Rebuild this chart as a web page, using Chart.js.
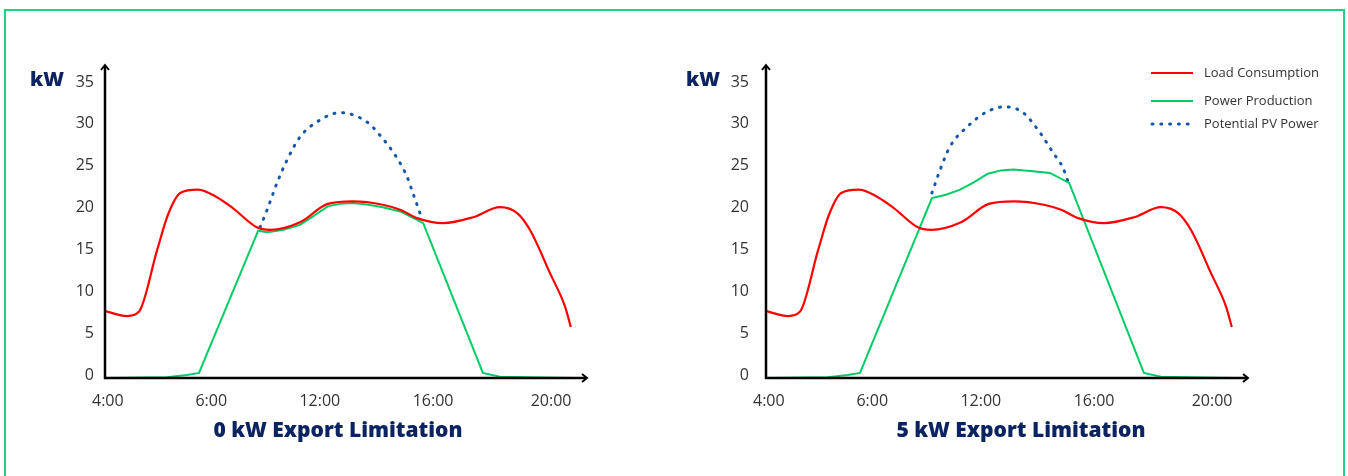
<!DOCTYPE html>
<html>
<head>
<meta charset="utf-8">
<script src="https://cdn.jsdelivr.net/npm/chart.js"></script>
<style>
  body { margin: 0; background: #fff; font-family: 'Open Sans', sans-serif; }
  #wrap { position: relative; width: 1348px; height: 476px; overflow: hidden; background: #fff; }
  .frame { position: absolute; left: 4px; top: 9px; width: 1341px; height: 490px; border: 2px solid #22d083; box-sizing: border-box; }
  canvas { position: absolute; top: 0; }
  .unit { position: absolute; top: 65px; font-weight: 800; font-size: 20px; color: #0b2461; }
  .title { position: absolute; top: 415px; width: 400px; text-align: center; font-weight: 800; font-size: 21px; color: #0b2461; }
  .legend { position: absolute; left: 1150px; top: 60px; font-size: 13px; color: #333; }
  .legend div { position: absolute; left: 0; white-space: nowrap; height: 20px; line-height: 20px; }
  .legend svg { position: absolute; left: 0; top: 9px; }
  .legend span { position: absolute; left: 54px; }
</style>
</head>
<body>
<div id="wrap">
  <div class="frame"></div>
  <canvas id="chartA" width="661" height="476" style="left:0"></canvas>
  <canvas id="chartB" width="661" height="476" style="left:661px"></canvas>
  <div class="unit" style="left:30px">kW</div>
  <div class="unit" style="left:686px">kW</div>
  <div class="title" style="left:138px">0 kW Export Limitation</div>
  <div class="title" style="left:821px">5 kW Export Limitation</div>
  <div class="legend">
    <div style="top:2px"><svg width="44" height="4"><line x1="1" y1="2" x2="43" y2="2" stroke="#ff0000" stroke-width="2.2"/></svg><span>Load Consumption</span></div>
    <div style="top:30px"><svg width="44" height="4"><line x1="1" y1="2" x2="43" y2="2" stroke="#00cc66" stroke-width="2"/></svg><span>Power Production</span></div>
    <div style="top:53px"><svg width="44" height="4"><line x1="2" y1="2" x2="43" y2="2" stroke="#1457a8" stroke-width="3" stroke-dasharray="1 7.8" stroke-linecap="round"/></svg><span>Potential PV Power</span></div>
  </div>
</div>
<script>
// x is a schematic time position (0 = start of axis, 100 = end of curves)
const tickT = [0.6, 22.6, 45.7, 69.8, 94.9];
const tickLabels = ["4:00", "6:00", "12:00", "16:00", "20:00"];

// Load Consumption (same in both charts)
const loadT  = [0, 4.7, 7.2, 11.1, 13.4, 16.0, 19.8, 23.8, 27.2, 32.3, 35.1, 41.5, 47.4, 52.8, 59.1, 62.8, 66.4, 71.9, 78.3, 84.0, 87.7, 90.4, 94.7, 97.9, 99.1];
const loadKW = [8.0, 7.4, 7.9, 15.3, 19.5, 22.1, 22.5, 21.6, 20.3, 18.0, 17.7, 18.6, 20.8, 21.1, 20.7, 20.1, 19.1, 18.5, 19.2, 20.4, 19.7, 17.7, 12.5, 8.5, 6.1];

// Power Production, 0 kW export limitation
const prodAT  = [0, 13.2, 17.4, 20.0, 32.6, 34.5, 38.0, 41.5, 44.5, 47.4, 50.0, 52.8, 56.0, 59.1, 62.8, 66.4, 67.7, 80.4, 84.0, 92.6, 100];
const prodAKW = [0, 0.1, 0.35, 0.6, 17.6, 17.4, 17.7, 18.3, 19.4, 20.5, 20.8, 20.9, 20.7, 20.4, 19.9, 18.9, 18.5, 0.6, 0.15, 0.05, 0];

// Power Production, 5 kW export limitation
const prodBT  = [0, 13.2, 17.4, 20.0, 35.3, 38.3, 41.3, 44.3, 47.2, 50.0, 52.6, 56.8, 60.4, 64.5, 80.4, 84.0, 92.6, 100];
const prodBKW = [0, 0.1, 0.35, 0.6, 21.5, 21.9, 22.5, 23.4, 24.4, 24.8, 24.9, 24.7, 24.5, 23.3, 0.6, 0.15, 0.05, 0];

// Potential PV Power
const pvAT  = [33.0, 34.5, 36.6, 38.7, 41.5, 45.7, 50.0, 55.7, 58.5, 62.1, 64.3, 65.5, 67.4];
const pvAKW = [18.0, 20.1, 23.3, 26.0, 28.8, 30.8, 31.7, 30.6, 29.0, 26.3, 24.0, 22.1, 19.1];
const pvBT  = [35.3, 37.0, 39.1, 42.8, 47.0, 50.9, 54.7, 58.3, 61.1, 63.2, 64.3];
const pvBKW = [22.1, 24.8, 27.6, 30.0, 31.8, 32.4, 31.7, 29.3, 26.9, 25.1, 23.4];

const pts = (xs, ys) => xs.map((x, i) => ({ x: x, y: ys[i] }));

Chart.defaults.font.family = "'Open Sans', sans-serif";
Chart.defaults.font.size = 16;
Chart.defaults.color = '#333';

// axis lines with arrow heads, extending past the plot area
const arrowAxes = {
  id: 'arrowAxes',
  afterDraw(chart) {
    const { ctx, chartArea: a } = chart;
    const topY = 65, endX = 587;
    ctx.save();
    ctx.strokeStyle = '#000';
    ctx.lineWidth = 2.5;
    ctx.lineCap = 'butt';
    ctx.beginPath();
    ctx.moveTo(a.left, a.bottom + 1);
    ctx.lineTo(a.left, topY + 1);
    ctx.moveTo(a.left - 1, a.bottom);
    ctx.lineTo(endX - 1, a.bottom);
    ctx.stroke();
    ctx.lineWidth = 2;
    ctx.beginPath();
    ctx.moveTo(a.left - 4, topY + 5);
    ctx.lineTo(a.left, topY);
    ctx.lineTo(a.left + 4, topY + 5);
    ctx.moveTo(endX - 5, a.bottom - 4);
    ctx.lineTo(endX, a.bottom);
    ctx.lineTo(endX - 5, a.bottom + 4);
    ctx.stroke();
    ctx.restore();
  }
};

function makeChart(id, prodT, prodKW, pvT, pvKW, yPad) {
  new Chart(document.getElementById(id), {
    type: 'line',
    data: {
      datasets: [
        { label: 'Load Consumption', data: pts(loadT, loadKW), borderColor: '#ff0000', borderWidth: 2.2, cubicInterpolationMode: 'monotone' },
        { label: 'Power Production', data: pts(prodT, prodKW), borderColor: '#00cc66', borderWidth: 2, tension: 0 },
        { label: 'Potential PV Power', data: pts(pvT, pvKW), borderColor: '#1457a8', borderWidth: 3, borderDash: [1, 7.8], borderCapStyle: 'round', cubicInterpolationMode: 'monotone' }
      ]
    },
    options: {
      responsive: false,
      animation: false,
      events: [],
      elements: { point: { radius: 0 } },
      layout: { padding: { top: 85, right: 86, left: 0, bottom: 0 } },
      plugins: { legend: { display: false }, tooltip: { enabled: false } },
      scales: {
        x: {
          type: 'linear', min: 0, max: 100,
          grid: { display: false }, border: { display: false },
          afterBuildTicks: s => { s.ticks = tickT.map(v => ({ value: v })); },
          afterFit: s => { s.height = 98; },
          ticks: { padding: 6, maxRotation: 0, autoSkip: false, callback: (v, i) => tickLabels[i] }
        },
        y: {
          min: 0, max: 35,
          grid: { display: false }, border: { display: false },
          afterFit: s => { s.width = 105; },
          ticks: { stepSize: 5, padding: yPad, labelOffset: -3 }
        }
      }
    },
    plugins: [arrowAxes]
  });
}

makeChart('chartA', prodAT, prodAKW, pvAT, pvAKW, 3);
makeChart('chartB', prodBT, prodBKW, pvBT, pvBKW, 9);
</script>
</body>
</html>
